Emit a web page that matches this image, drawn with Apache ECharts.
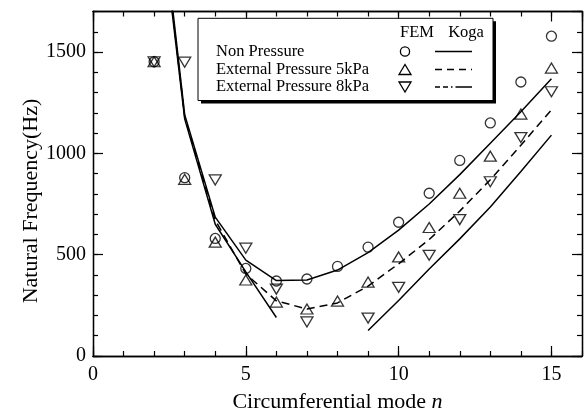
<!DOCTYPE html>
<html><head><meta charset="utf-8">
<script src="https://cdn.jsdelivr.net/npm/echarts@6/dist/echarts.min.js"></script>
<style>html,body{margin:0;padding:0;background:#fff}#c{width:584px;height:418px}</style>
</head><body><div id="c"></div>
<script>
const modes = [2,3,4,5,6,7,8,9,10,11,12,13,14,15];
const femNon = [1452,880,580,432,370,380,442,537,660,803,965,1150,1352,1578];
const fem5   = [1452,872,562,375,266,232,271,365,489,634,803,986,1194,1421];
const fem8   = [1452,1450,869,532,330,168,null,187,339,497,673,860,1078,1304];
const kogaNon = [2520,1191,685,473,372,375,424,510,621,750,895,1050,1205,1368];
const koga5   = [2480,1180,670,405,272,232,262,345,455,575,715,870,1040,1215];
const koga8   = [2450,1170,650,415,190,null,null,126,274,429,578,735,910,1090];
const xTicks = [0,5,10,15];
const yTicks = [0,500,1000,1500];

const FONT = 'Liberation Serif';
const K = '#000';
function pairs(vals){ return modes.map((n,i)=>[n, vals[i]]); }
function pts(vals){ return modes.map((n,i)=>[n, vals[i]]).filter(p=>p[1]!==null); }

function axis(dim, pos, major, withLabel){
  const ticks = dim==='x' ? xTicks : yTicks;
  return {
    type:'value', position:pos,
    min:0, max: dim==='x'?16:1700,
    interval: dim==='x' ? (major?5:1) : (major?500:100),
    axisLine:{show:true,onZero:false,lineStyle:{color:K,width:1.3}},
    axisTick:{show:true,inside:true,length:major?10:5,lineStyle:{color:K,width:1.2}},
    axisLabel:{show:withLabel,color:K,fontFamily:FONT,fontSize:20,showMaxLabel:false,
      margin: dim==='x'?9:7,
      formatter:v=> ticks.indexOf(v)>=0 ? String(v) : ''},
    splitLine:{show:false}
  };
}
const xA = [axis('x','bottom',true,true), axis('x','bottom',false,false), axis('x','top',true,false), axis('x','top',false,false)];
const yA = [axis('y','left',true,true), axis('y','left',false,false), axis('y','right',true,false), axis('y','right',false,false)];
xA[0].name = '{a|Circumferential mode }{b|n}';
xA[0].nameLocation = 'middle';
xA[0].nameGap = 35;
xA[0].nameTextStyle = {rich:{a:{fontFamily:FONT,fontSize:22,color:K},b:{fontFamily:FONT,fontSize:22,fontStyle:'italic',color:K}}};

const mk = {color:'transparent',borderColor:K,borderWidth:1.3};
const chart = echarts.init(document.getElementById('c'));
const LX = 216, SYMX = 405, L0 = 435, L1 = 472;
const rows = [51.5, 69.5, 87];
const tstyle = (t,x,y,align)=>({type:'text',z:12,x:x,y:y,style:{text:t,fontFamily:FONT,fontSize:16.5,fill:K,align:align||'left',verticalAlign:'middle'}});
chart.setOption({
  animation:false,
  grid:{left:93,right:2,top:11.5,bottom:55.3,containLabel:false},
  xAxis:xA, yAxis:yA,
  series:[
    {type:'scatter',xAxisIndex:0,yAxisIndex:0,data:pts(femNon),symbol:'circle',symbolSize:10,itemStyle:mk,z:5},
    {type:'scatter',xAxisIndex:0,yAxisIndex:0,data:pts(fem5),symbol:'triangle',symbolSize:[12,10],itemStyle:mk,z:5},
    {type:'scatter',xAxisIndex:0,yAxisIndex:0,data:pts(fem8),symbol:'triangle',symbolRotate:180,symbolSize:[12,10],itemStyle:mk,z:5},
    {type:'line',xAxisIndex:0,yAxisIndex:0,data:pairs(kogaNon),symbol:'none',lineStyle:{color:K,width:1.5},clip:true},
    {type:'line',xAxisIndex:0,yAxisIndex:0,data:pairs(koga5),symbol:'none',lineStyle:{color:K,width:1.5,type:[8,5]},clip:true},
    {type:'line',xAxisIndex:0,yAxisIndex:0,data:pairs(koga8),symbol:'none',connectNulls:false,lineStyle:{color:K,width:1.5},clip:true}
  ],
  graphic:[
    {type:'text',x:31,y:201,rotation:Math.PI/2,style:{text:'Natural Frequency(Hz)',fontFamily:FONT,fontSize:22,fill:K,align:'center',verticalAlign:'middle'}},
    {type:'rect',shape:{x:201,y:21.3,width:295,height:82.2},style:{fill:K},z:10},
    {type:'rect',shape:{x:198,y:18.3,width:295,height:82.2},style:{fill:'#fff',stroke:K,lineWidth:1},z:11},
    tstyle('FEM',417,33,'center'),
    tstyle('Koga',466,33,'center'),
    tstyle('Non Pressure',LX,rows[0]),
    tstyle('External Pressure 5kPa',LX,rows[1]),
    tstyle('External Pressure 8kPa',LX,rows[2]),
    {type:'circle',z:12,shape:{cx:SYMX,cy:rows[0],r:4.6},style:{fill:'none',stroke:K,lineWidth:1.3}},
    {type:'polygon',z:12,shape:{points:[[SYMX-6,rows[1]+5],[SYMX+6,rows[1]+5],[SYMX,rows[1]-5]]},style:{fill:'none',stroke:K,lineWidth:1.3}},
    {type:'polygon',z:12,shape:{points:[[SYMX-6,rows[2]-5],[SYMX+6,rows[2]-5],[SYMX,rows[2]+5]]},style:{fill:'none',stroke:K,lineWidth:1.3}},
    {type:'line',z:12,shape:{x1:L0,y1:rows[0],x2:L1,y2:rows[0]},style:{stroke:K,lineWidth:1.3}},
    {type:'line',z:12,shape:{x1:L0,y1:rows[1],x2:L1,y2:rows[1]},style:{stroke:K,lineWidth:1.3,lineDash:[7,5]}},
    {type:'line',z:12,shape:{x1:L0,y1:rows[2],x2:L1,y2:rows[2]},style:{stroke:K,lineWidth:1.3,lineDash:[5,3,5,3,1.5,3,14,0]}}
  ]
});
</script></body></html>
